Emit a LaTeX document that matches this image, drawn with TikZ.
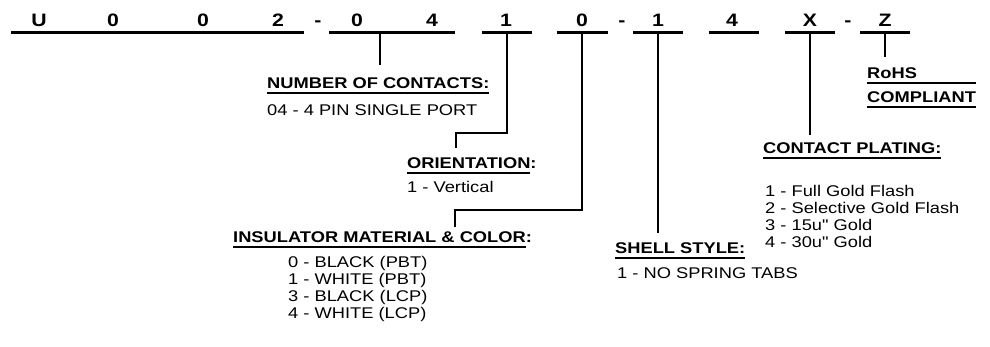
\documentclass[tikz,border=0pt]{standalone}
\usepackage{fontspec}
\setmainfont{Liberation Sans}[FakeStretch=1.18,Ligatures=TeXOff]
\usetikzlibrary{positioning}

\newcommand{\hdul}[1]{\setbox0\hbox{#1}\rlap{\rule[-5.5pt]{\wd0}{1.6pt}}\box0}
\newcommand{\inch}{{\char34}}

\tikzset{
  digit/.style={font=\fontsize{18}{18}\selectfont\bfseries,inner sep=0pt,anchor=base},
  head/.style={font=\fontsize{15.5}{17}\selectfont\bfseries,inner sep=0pt,anchor=base west,align=left},
  body/.style={font=\fontsize{15.5}{17}\selectfont,inner sep=0pt,anchor=base west,align=left},
  bar/.style={line width=3pt},
  lead/.style={line width=2.7pt},
}

\begin{document}
\begin{tikzpicture}[x=1pt,y=-1pt]
\useasboundingbox (0,0) rectangle (990,346);
% part number
\foreach \ch/\xx [count=\i] in {U/39,0/113,0/203,2/278,-/318,0/357,4/432,1/506,0/582,-/622,1/658,4/732,X/810,-/848,Z/885}
  \node[digit] (d\i) at (\xx,26) {\ch};
\foreach \a/\b [count=\i] in {11/304,329/455,482/532,557/608,633/683,709/759,785/835,860/910} {
  \coordinate (s\i) at (\a,32);
  \coordinate (e\i) at (\b,32);
  \draw[bar] (s\i) -- (e\i);
}
% taps on the bars
\coordinate (t2) at (380,32);
\coordinate (t3) at (507,32);
\coordinate (t4) at (582,32);
\coordinate (t5) at (658,32);
\coordinate (t7) at (810,32);
\coordinate (t8) at (885,32);
% lead ends
\coordinate (c2) at (380,65);
\coordinate (k3) at (456,133);
\coordinate (c3) at (456,148);
\coordinate (k4) at (455,210);
\coordinate (c4) at (455,227);
\coordinate (c5) at (658,233);
\coordinate (c7) at (810,135);
\coordinate (c8) at (885,57);
\draw[lead] (t2) -- (c2);
\draw[lead] (t3) |- (k3) -- (c3);
\draw[lead] (t4) |- (k4) -- (c4);
\draw[lead] (t5) -- (c5);
\draw[lead] (t7) -- (c7);
\draw[lead] (t8) -- (c8);
% fields (multi-line nodes sit on their last baseline)
\node[head] (hNum) at (267,88) {\hdul{NUMBER OF CONTACTS:}};
\node[body] (lNum) at (267,115) {04 - 4 PIN SINGLE PORT};
\node[head] (hOri) at (407,168) {\hdul{ORIENTATION}:};
\node[body] (lOri) at (407,192) {1 - Vertical};
\node[head] (hIns) at (233,242) {\hdul{INSULATOR MATERIAL \& COLOR}:};
\node[body] (lIns) at (288,318) {0 - BLACK (PBT)\\1 - WHITE (PBT)\\3 - BLACK (LCP)\\4 - WHITE (LCP)};
\node[head] (hShl) at (615,253) {\hdul{SHELL STYLE:}};
\node[body] (lShl) at (617,278) {1 - NO SPRING TABS};
\node[head] (hPlt) at (763,153) {\hdul{CONTACT PLATING:}};
\node[body] (lPlt) at (765,247) {1 - Full Gold Flash\\2 - Selective Gold Flash\\3 - 15u\inch{} Gold\\4 - 30u\inch{} Gold};
\node[head] (hRoh) at (867,102) {\hdul{\rlap{RoHS}\phantom{COMPLIANT}}\\[7pt]\hdul{COMPLIANT}};
\end{tikzpicture}
\end{document}
